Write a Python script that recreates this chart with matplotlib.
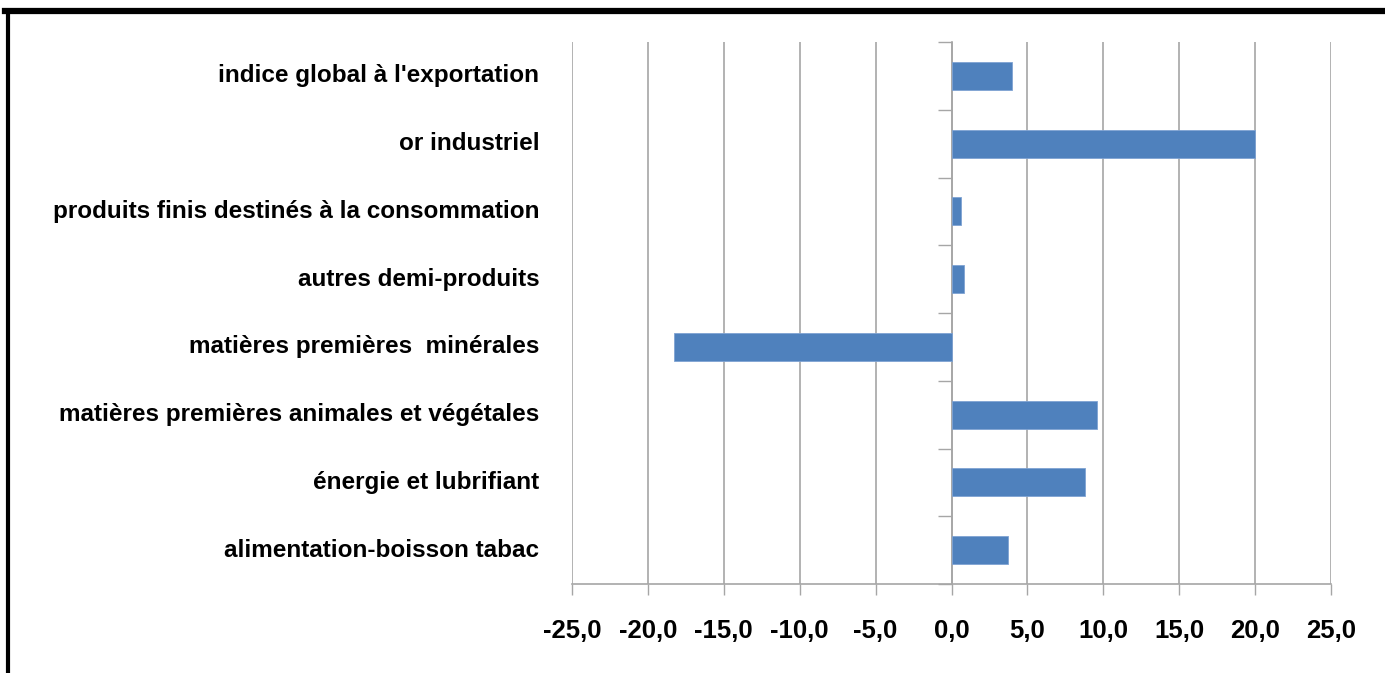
import matplotlib
matplotlib.use("Agg")
import matplotlib.pyplot as plt
from matplotlib import font_manager
from matplotlib.transforms import blended_transform_factory
from matplotlib.lines import Line2D
import numpy as np

categories = [
    "indice global à l'exportation",
    "or industriel",
    "produits finis destinés à la consommation",
    "autres demi-produits",
    "matières premières  minérales",
    "matières premières animales et végétales",
    "énergie et lubrifiant",
    "alimentation-boisson tabac",
]
values = [4.0, 20.0, 0.6, 0.8, -18.3, 9.6, 8.8, 3.7]
xticks = [-25, -20, -15, -10, -5, 0, 5, 10, 15, 20, 25]
xtick_labels = ["-25,0", "-20,0", "-15,0", "-10,0", "-5,0", "0,0", "5,0",
                "10,0", "15,0", "20,0", "25,0"]

names = {f.name for f in font_manager.fontManager.ttflist}
family = "Liberation Sans Narrow" if "Liberation Sans Narrow" in names else "Liberation Sans"
plt.rcParams['font.family'] = [family, 'DejaVu Sans']

fig = plt.figure(figsize=(13.85, 6.73), dpi=100)
ax = fig.add_axes([572/1385, 1-584/673, (1331-572)/1385, (584-42)/673])

n = len(categories)
ypos = np.arange(n)[::-1]
ax.barh(ypos, values, height=0.41, color="#4F81BD", edgecolor="#7FA3D3", linewidth=0.6, zorder=3)

ax.set_xlim(-25, 25)
ax.set_ylim(-0.5, n - 0.5)
ax.set_xticks(xticks)
ax.set_xticklabels(xtick_labels, fontsize=18.5, fontweight="bold")
ax.grid(axis="x", color="#A6A6A6", linewidth=1.2, zorder=0)
ax.tick_params(axis="x", length=8, width=1.0, color="#A6A6A6", pad=17)

for s in ["top", "right"]:
    ax.spines[s].set_visible(False)
ax.spines["bottom"].set_color("#A6A6A6")
ax.spines["bottom"].set_linewidth(1.2)
ax.spines["left"].set_position(("data", 0))
ax.spines["left"].set_color("#A6A6A6")
ax.spines["left"].set_linewidth(1.2)
ax.set_yticks([])
ax.set_yticks(np.arange(-0.5, n, 1.0), minor=True)
ax.tick_params(axis="y", which="minor", length=10, width=1.0, color="#A6A6A6", direction="out")
ax.tick_params(axis="y", which="minor", labelleft=False)

trans = blended_transform_factory(ax.transAxes, ax.transData)
for y, lab in zip(ypos, categories):
    ax.text(-0.043, y, lab, transform=trans, ha="right", va="center",
            fontsize=17.5, fontweight="bold", color="black")

fig.add_artist(Line2D([5/1385, 1.0], [1-11/673, 1-11/673], color="black", linewidth=4.5,
                      transform=fig.transFigure))
fig.add_artist(Line2D([8/1385, 8/1385], [0.0, 1-11/673], color="black", linewidth=3,
                      transform=fig.transFigure))

fig.savefig("out.png", dpi=100)
